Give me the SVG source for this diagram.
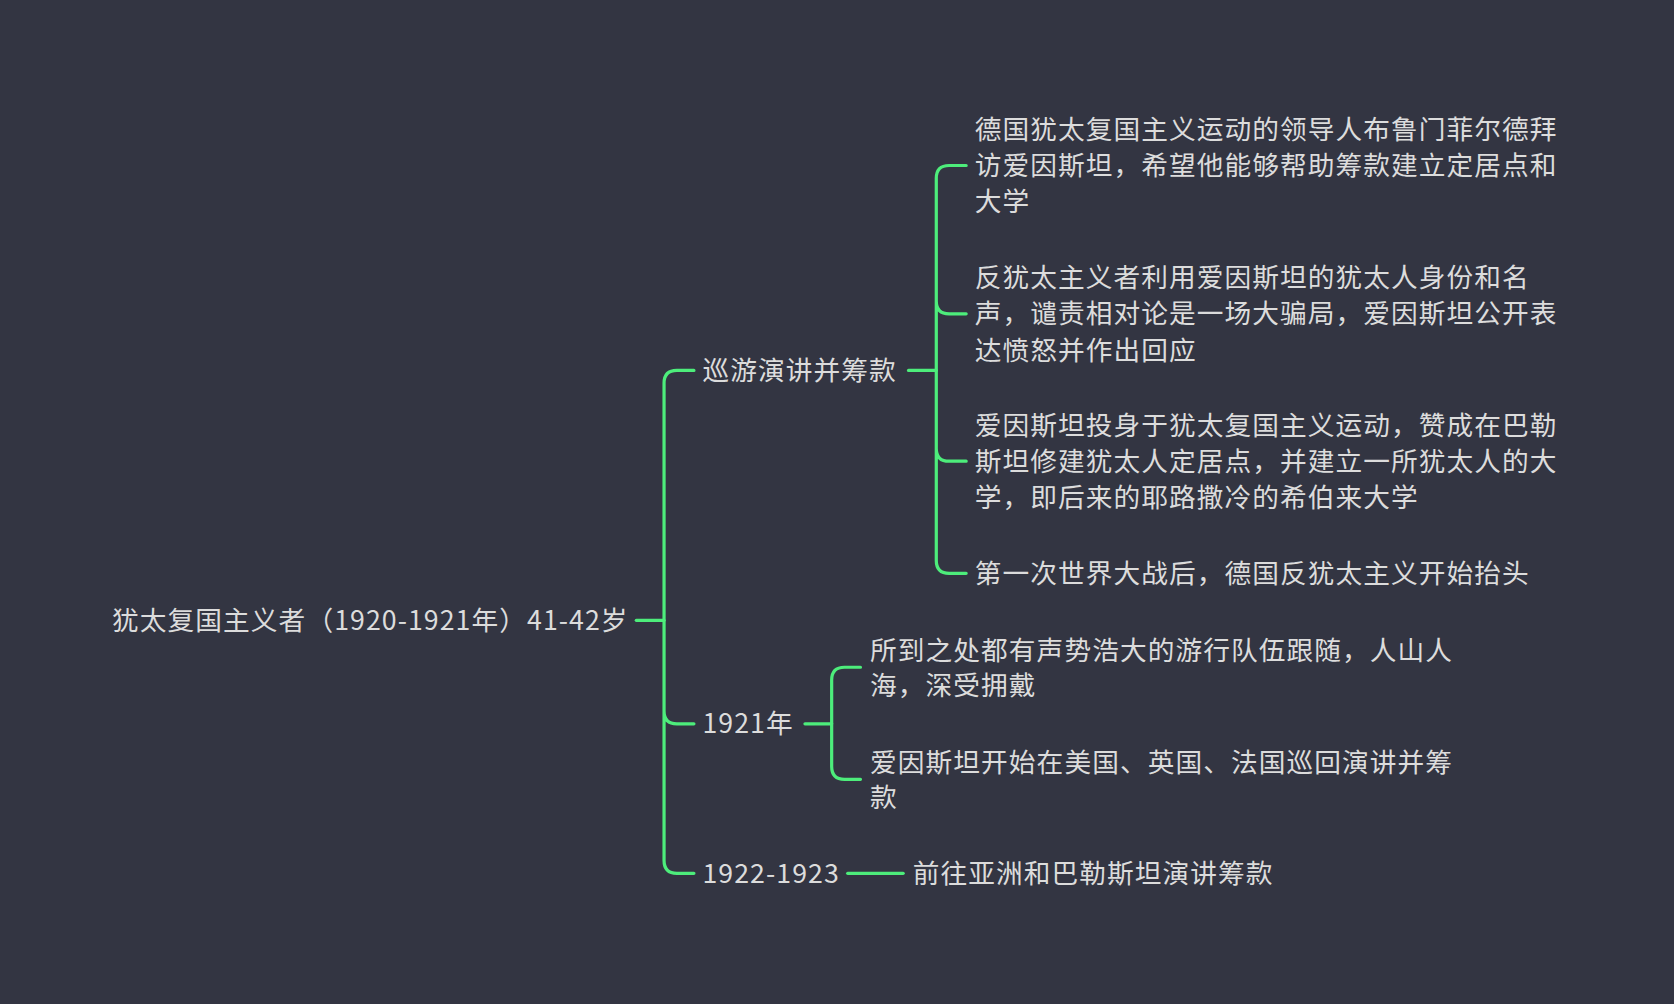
<svg xmlns="http://www.w3.org/2000/svg" width="1674" height="1004" viewBox="0 0 1674 1004">
<style>
text{font-family:"Noto Sans CJK SC","Noto Sans",sans-serif;font-size:25px;letter-spacing:1px;fill:#dcdcdc}
.c{fill:none;stroke:#4ded7b;stroke-width:3;stroke-linecap:round}
</style>
<rect width="1674" height="1004" fill="#333542"/>
<g transform="scale(1.0676)">
<g id="connectors">
<path class="c" d="M596 581H622"/>
<path class="c" d="M650 347H634Q622 347 622 359V806Q622 818 634 818H650M622 678V666Q622 678 634 678H650"/>
<path class="c" d="M851 347H877"/>
<path class="c" d="M905 155H889Q877 155 877 167V525Q877 537 889 537H905M877 282Q877 294 889 294H905M877 420Q877 432 889 432H905"/>
<path class="c" d="M754 678H779"/>
<path class="c" d="M806 625H791Q779 625 779 637V718Q779 730 791 730H806"/>
<path class="c" d="M794 818H846"/>
</g>
<g id="root"><text x="105" y="590">犹太复国主义者（1920-1921年）41-42岁</text></g>
<g id="n1"><text x="658" y="356">巡游演讲并筹款</text></g>
<g id="n2"><text x="658" y="687">1921年</text></g>
<g id="n3"><text x="658" y="827">1922-1923</text></g>
<g id="l1"><text x="913" y="130">德国犹太复国主义运动的领导人布鲁门菲尔德拜</text><text x="913" y="164">访爱因斯坦，希望他能够帮助筹款建立定居点和</text><text x="913" y="198">大学</text></g>
<g id="l2"><text x="913" y="269">反犹太主义者利用爱因斯坦的犹太人身份和名</text><text x="913" y="303">声，谴责相对论是一场大骗局，爱因斯坦公开表</text><text x="913" y="337">达愤怒并作出回应</text></g>
<g id="l3"><text x="913" y="407">爱因斯坦投身于犹太复国主义运动，赞成在巴勒</text><text x="913" y="441">斯坦修建犹太人定居点，并建立一所犹太人的大</text><text x="913" y="475">学，即后来的耶路撒冷的希伯来大学</text></g>
<g id="l4"><text x="913" y="546">第一次世界大战后，德国反犹太主义开始抬头</text></g>
<g id="l5"><text x="815" y="618">所到之处都有声势浩大的游行队伍跟随，人山人</text><text x="815" y="651">海，深受拥戴</text></g>
<g id="l6"><text x="815" y="723">爱因斯坦开始在美国、英国、法国巡回演讲并筹</text><text x="815" y="756">款</text></g>
<g id="l7"><text x="855" y="827">前往亚洲和巴勒斯坦演讲筹款</text></g>
</g>
</svg>
